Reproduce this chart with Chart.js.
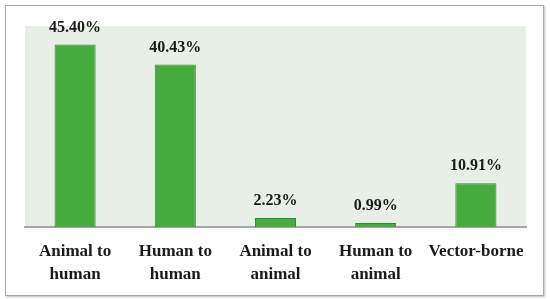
<!DOCTYPE html>
<html>
<head>
<meta charset="utf-8">
<script src="https://cdn.jsdelivr.net/npm/chart.js@4"></script>
<style>
  body { margin: 0; background: #fff; }
  #wrap { position: relative; width: 550px; height: 299px; }
  #frame {
    position: absolute; left: 5px; top: 5px; width: 537px; height: 289px;
    border: 1.5px solid #a8a8a8; box-shadow: 1px 1px 2px #bbb;
  }
  canvas { position: absolute; left: 0; top: 0; }
</style>
</head>
<body>
<div id="wrap">
  <div id="frame"></div>
  <canvas id="grafico" width="550" height="299"></canvas>
</div>
<script>
// categorias e valores (%)
const categorias = [
  ['Animal to', 'human'],
  ['Human to', 'human'],
  ['Animal to', 'animal'],
  ['Human to', 'animal'],
  'Vector-borne'
];
const valores = [45.40, 40.43, 2.23, 0.99, 10.91];
const rotulos = ['45.40%', '40.43%', '2.23%', '0.99%', '10.91%'];

const fonteSerif = '"Palatino Linotype", "Book Antiqua", Palatino, "Liberation Serif", serif';

// fundo verde claro da area do grafico
const fundoArea = {
  id: 'fundoArea',
  beforeDraw(chart) {
    const { ctx, chartArea: a } = chart;
    ctx.save();
    ctx.fillStyle = '#e8efe7';
    ctx.fillRect(a.left, a.top, a.right - a.left, a.bottom - a.top);
    ctx.restore();
  }
};

// rotulos em cima das barras
const rotulosBarras = {
  id: 'rotulosBarras',
  afterDatasetsDraw(chart) {
    const { ctx } = chart;
    const meta = chart.getDatasetMeta(0);
    ctx.save();
    ctx.font = 'bold 16px ' + fonteSerif;
    ctx.fillStyle = '#1a1a1a';
    ctx.textAlign = 'center';
    ctx.textBaseline = 'middle';
    meta.data.forEach((bar, i) => {
      ctx.fillText(rotulos[i], bar.x, bar.y - 17);
    });
    ctx.restore();
  }
};

const ctx = document.getElementById('grafico').getContext('2d');
new Chart(ctx, {
  type: 'bar',
  data: {
    labels: categorias,
    datasets: [{
      data: valores,
      backgroundColor: '#45ab3d',
      borderColor: '#2f8a2b',
      borderWidth: 1,
      categoryPercentage: 1,
      barPercentage: 0.41
    }]
  },
  options: {
    responsive: false,
    animation: false,
    layout: { padding: { top: 26, left: 25, right: 24, bottom: 0 } },
    plugins: { legend: { display: false }, tooltip: { enabled: false } },
    scales: {
      x: {
        afterFit: (s) => { s.height = 72; s.paddingLeft = 0; s.paddingRight = 0; },
        grid: { display: false, drawTicks: false },
        border: { display: true, color: '#a6a6a6', width: 2 },
        ticks: {
          padding: 14,
          maxRotation: 0,
          minRotation: 0,
          autoSkip: false,
          color: '#1a1a1a',
          font: { family: fonteSerif, size: 17, weight: 'bold', lineHeight: 1.3 }
        }
      },
      y: {
        display: false,
        min: 0,
        max: 50
      }
    }
  },
  plugins: [fundoArea, rotulosBarras]
});
</script>
</body>
</html>
